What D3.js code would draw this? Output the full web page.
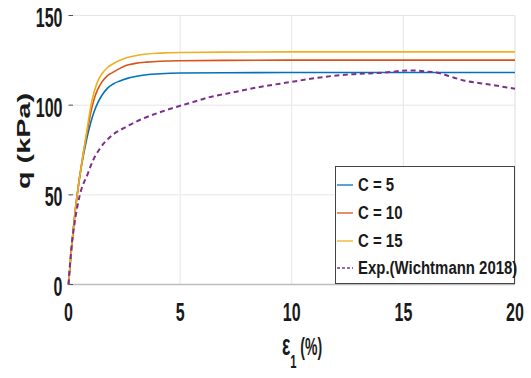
<!DOCTYPE html>
<html>
<head>
<meta charset="utf-8">
<script src="https://cdn.jsdelivr.net/npm/d3@7"></script>
<style>
  html, body { margin: 0; padding: 0; background: #fff; }
  svg { display: block; }
  text { font-family: "Liberation Sans", Arial, sans-serif; font-weight: bold; fill: #1a1a1a; }
</style>
</head>
<body>
<svg id="chart" width="531" height="378"></svg>
<script>
// Axial strain (%) sampled along the model curves
const strainModel = [0, 0.1, 0.2, 0.3, 0.4, 0.55, 0.7, 0.85, 1.0, 1.15, 1.3, 1.5, 1.75, 2.0, 2.3, 2.6, 3.0, 3.5, 4.1, 5, 7, 10, 15, 20];
// Deviator stress q (kPa) for each value of C
const qC5  = [0, 15, 29, 41, 51, 64, 74, 83, 90.5, 96.5, 101, 105.5, 109.5, 111.8, 113.5, 114.8, 116, 117, 117.5, 117.9, 118.1, 118.2, 118.2, 118.2];
const qC10 = [0, 15, 29, 41, 51, 64, 76, 86, 96, 103.5, 108.5, 113, 116.5, 118.4, 120.5, 122.2, 123.3, 124, 124.5, 124.8, 125, 125.1, 125.1, 125.1];
const qC15 = [0, 15, 29, 41, 51, 64, 76, 88, 99.5, 107.5, 113, 117.5, 121, 123.1, 125, 126.4, 127.6, 128.5, 129, 129.4, 129.6, 129.7, 129.7, 129.7];

// Experimental curve (Wichtmann 2018)
const strainExp = [0, 0.12, 0.27, 0.49, 0.87, 1.09, 1.39, 1.84, 2.59, 3.33, 4.08, 4.83, 5.57, 6.32, 7.07, 7.82, 8.42, 10, 11, 12.6, 14.1, 15.3, 16.0, 16.6, 17.1, 17.7, 18.6, 20];
const qExp      = [0, 19, 34, 49, 62, 69, 75.5, 82, 88, 92.5, 96, 99, 101.7, 104.5, 106.4, 108.3, 109.8, 113, 115, 117.2, 118.1, 119.4, 118.8, 117.9, 116, 113.8, 112, 109.2];

const xTicks = [0, 5, 10, 15, 20];
const yTicks = [0, 50, 100, 150];
const legendLabels = ["C = 5", "C = 10", "C = 15", "Exp.(Wichtmann 2018)"];

const svg = d3.select("#chart");
const x = d3.scaleLinear().domain([0, 20]).range([68.5, 515]);
const y = d3.scaleLinear().domain([0, 150]).range([284.5, 15.5]);

const series = [
  { label: legendLabels[0], xs: strainModel, ys: qC5,  color: "#0072BD", dash: null },
  { label: legendLabels[1], xs: strainModel, ys: qC10, color: "#D95319", dash: null },
  { label: legendLabels[2], xs: strainModel, ys: qC15, color: "#EDB120", dash: null },
  { label: legendLabels[3], xs: strainExp,   ys: qExp, color: "#7E2F8E", dash: "5,3.5" }
];

// grid
const grid = svg.append("g");
grid.selectAll(".gx").data(xTicks.slice(1)).join("line")
  .attr("x1", d => x(d)).attr("x2", d => x(d))
  .attr("y1", y(0)).attr("y2", y(150))
  .attr("stroke", d => d === 20 ? "#dcdcdc" : "#e6e6e6").attr("stroke-width", 1);
grid.selectAll(".gy").data(yTicks.slice(1)).join("line")
  .attr("x1", x(0)).attr("x2", x(20))
  .attr("y1", d => y(d)).attr("y2", d => y(d))
  .attr("stroke", "#e6e6e6").attr("stroke-width", 1);

// bottom axis line
svg.append("line").attr("x1", x(0)).attr("x2", x(20)).attr("y1", y(0)).attr("y2", y(0))
  .attr("stroke", "#bdbdbd").attr("stroke-width", 1.5);

// inward tick marks on the left
svg.selectAll(".ty").data(yTicks).join("line")
  .attr("x1", x(0)).attr("x2", x(0) + 4.5).attr("y1", d => y(d)).attr("y2", d => y(d))
  .attr("stroke", "#555").attr("stroke-width", 1);

// tick labels
const tickFont = 20;
svg.selectAll(".ly").data(yTicks).join("g")
  .attr("transform", d => `translate(62.5,${y(d) + 11.5}) scale(0.8,1.4)`)
  .append("text").attr("text-anchor", "end").attr("font-size", tickFont)
  .text(d => d);
svg.selectAll(".lx").data(xTicks).join("g")
  .attr("transform", d => `translate(${x(d)},321) scale(0.8,1.3)`)
  .append("text").attr("text-anchor", "middle").attr("font-size", tickFont)
  .text(d => d);

// curves
const line = d3.line().curve(d3.curveMonotoneX).x(d => x(d[0])).y(d => y(d[1]));
const plot = svg.append("g");
series.forEach(s => {
  plot.append("path")
    .datum(s.xs.map((v, i) => [v, s.ys[i]]))
    .attr("d", line)
    .attr("fill", "none")
    .attr("stroke", s.color)
    .attr("stroke-width", s.dash ? 2 : 1.6)
    .attr("stroke-dasharray", s.dash);
});

// axis titles
const yl = svg.append("g").attr("transform", "translate(30,141) rotate(-90) scale(1.6,1)");
yl.append("text").attr("text-anchor", "middle").attr("font-size", 18).text("q (kPa)");

const xl = svg.append("g").attr("transform", "translate(302,355) scale(0.7,1.15)");
const xt = xl.append("text").attr("text-anchor", "middle").attr("font-size", 20);
xt.append("tspan").attr("font-size", 25).text("ε");
xt.append("tspan").attr("font-size", 16).attr("dy", 11).text("1");
xt.append("tspan").attr("dy", -11).text(" (%)");

// legend
const lg = svg.append("g");
lg.append("rect").attr("x", 335.5).attr("y", 166.5).attr("width", 179).attr("height", 117)
  .attr("fill", "#fff").attr("stroke", "#444").attr("stroke-width", 1);
const rowsY = [185, 213, 241, 268];
series.forEach((s, i) => {
  lg.append("line").attr("x1", 337).attr("x2", 353)
    .attr("y1", rowsY[i]).attr("y2", rowsY[i])
    .attr("stroke", s.color).attr("stroke-width", s.dash ? 1.5 : 1.3)
    .attr("stroke-dasharray", s.dash ? "3,2" : null);
  lg.append("g").attr("transform", `translate(358,${rowsY[i] + 6}) scale(0.88,1.05)`)
    .append("text").attr("font-size", 17).text(s.label);
});
</script>
</body>
</html>
